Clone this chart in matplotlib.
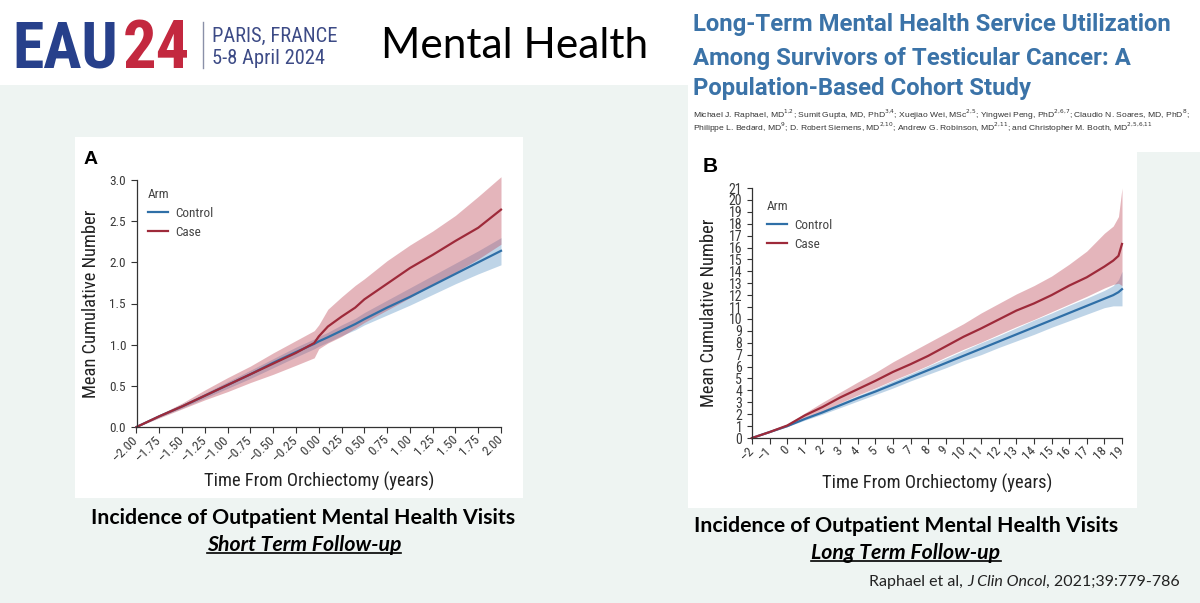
import matplotlib
matplotlib.use("Agg")
import matplotlib.pyplot as plt
from matplotlib.patches import Rectangle
from matplotlib.lines import Line2D

# ---- data ----
# panel A: short term follow-up
xa = [-2.0, -1.75, -1.5, -1.25, -1.0, -0.75, -0.5, -0.25, -0.05, 0.0,
      0.1, 0.25, 0.4, 0.5, 0.75, 1.0, 1.25, 1.5, 1.75, 2.0]
ctrl_a = [0, 0.13, 0.25, 0.38, 0.51, 0.64, 0.78, 0.91, 1.01, 1.04,
          1.09, 1.17, 1.25, 1.31, 1.45, 1.58, 1.72, 1.86, 2.00, 2.14]
ctrl_a_hi = [0, 0.14, 0.27, 0.41, 0.55, 0.69, 0.83, 0.97, 1.07, 1.10,
             1.15, 1.24, 1.32, 1.39, 1.54, 1.69, 1.84, 1.99, 2.14, 2.30]
ctrl_a_lo = [0, 0.12, 0.23, 0.35, 0.47, 0.59, 0.72, 0.85, 0.95, 0.98,
             1.03, 1.11, 1.18, 1.24, 1.36, 1.48, 1.61, 1.74, 1.86, 1.97]
case_a = [0, 0.13, 0.25, 0.38, 0.51, 0.64, 0.77, 0.90, 1.02, 1.10,
          1.22, 1.34, 1.45, 1.55, 1.74, 1.93, 2.09, 2.26, 2.42, 2.64]
case_a_hi = [0, 0.15, 0.29, 0.45, 0.60, 0.74, 0.90, 1.05, 1.17, 1.24,
             1.43, 1.58, 1.72, 1.80, 2.02, 2.21, 2.38, 2.57, 2.80, 3.04]
case_a_lo = [0, 0.11, 0.22, 0.33, 0.43, 0.54, 0.64, 0.75, 0.84, 0.95,
             1.02, 1.10, 1.20, 1.27, 1.42, 1.57, 1.73, 1.88, 2.04, 2.22]
xticks_a = [-2.0, -1.75, -1.5, -1.25, -1.0, -0.75, -0.5, -0.25, 0.0,
            0.25, 0.5, 0.75, 1.0, 1.25, 1.5, 1.75, 2.0]
yticks_a = [0.0, 0.5, 1.0, 1.5, 2.0, 2.5, 3.0]

# panel B: long term follow-up
xb = [-2, -1, 0, 1, 2, 3, 4, 5, 6, 7, 8, 9, 10, 11, 12, 13, 14, 15,
      16, 17, 18, 18.5, 18.8, 19]
ctrl_b = [0, 0.5, 1.0, 1.6, 2.15, 2.75, 3.35, 3.9, 4.5, 5.1, 5.7, 6.3, 6.9,
          7.5, 8.1, 8.7, 9.3, 9.9, 10.5, 11.1, 11.7, 12.0, 12.25, 12.5]
ctrl_b_hi = [0, 0.52, 1.05, 1.7, 2.3, 2.95, 3.55, 4.15, 4.8, 5.4, 6.05, 6.7,
             7.35, 8.0, 8.6, 9.25, 9.9, 10.5, 11.15, 11.75, 12.4, 12.8, 13.3, 14.0]
ctrl_b_lo = [0, 0.48, 0.95, 1.5, 2.0, 2.55, 3.1, 3.65, 4.2, 4.8, 5.35, 5.9,
             6.5, 7.0, 7.6, 8.15, 8.7, 9.3, 9.85, 10.4, 10.95, 11.1, 11.1, 11.1]
case_b = [0, 0.5, 1.05, 1.9, 2.6, 3.4, 4.1, 4.8, 5.55, 6.2, 6.9, 7.7, 8.5,
          9.2, 9.95, 10.7, 11.3, 12.0, 12.8, 13.5, 14.4, 14.9, 15.3, 16.3]
case_b_hi = [0, 0.55, 1.15, 2.1, 3.0, 3.85, 4.7, 5.5, 6.4, 7.2, 8.0, 8.8, 9.6,
             10.5, 11.3, 12.1, 12.8, 13.6, 14.6, 15.7, 17.2, 17.8, 18.6, 21.0]
case_b_lo = [0, 0.45, 0.95, 1.65, 2.25, 2.95, 3.6, 4.2, 4.85, 5.45, 6.1, 6.8,
             7.45, 8.05, 8.7, 9.35, 9.95, 10.6, 11.25, 11.9, 12.6, 12.9, 13.0, 12.8]
xticks_b = list(range(-2, 20))
yticks_b = list(range(0, 22))

title_lines = ["Long-Term Mental Health Service Utilization",
               "Among Survivors of Testicular Cancer: A",
               "Population-Based Cohort Study"]
authors = ["Michael J. Raphael, MD$^{1{,}2}$; Sumit Gupta, MD, PhD$^{3{,}4}$; Xuejiao Wei, MSc$^{2{,}5}$; "
           "Yingwei Peng, PhD$^{2{,}6{,}7}$; Claudio N. Soares, MD, PhD$^{8}$;",
           "Philippe L. Bedard, MD$^{9}$; D. Robert Siemens, MD$^{2{,}10}$; Andrew G. Robinson, MD$^{2{,}11}$; "
           "and Christopher M. Booth, MD$^{2{,}5{,}6{,}11}$"]

COND = "Roboto Condensed"
ARIAL = "Liberation Sans"
CAL = "Lato"

BLUE = "#2f6fa7"
RED = "#9e2a3a"
BG = "#eef4f2"
AXTXT = "#3a3a3a"

W, H = 1200, 603
fig = plt.figure(figsize=(12, 6.03), dpi=100, facecolor=BG)


def box(x0, y0, x1, y1, color="white"):
    fig.patches.append(Rectangle((x0 / W, 1 - y1 / H), (x1 - x0) / W, (y1 - y0) / H,
                                 transform=fig.transFigure, facecolor=color,
                                 edgecolor="none", zorder=-5))


def ftext(x, y, s, **kw):
    return fig.text(x / W, 1 - y / H, s, **kw)


# white areas of the slide
box(0, 0, 688, 85)
box(688, 0, 1200, 152)
box(688, 152, 1137, 508)
box(75, 137, 523, 498)

# header
ftext(12, 68, "EAU", family=COND, weight="bold", size=46, color="#27408b", va="baseline")
ftext(123, 68, "24", family=COND, weight="bold", size=48, color="#c3283f", va="baseline")
fig.add_artist(Line2D([203 / W, 203 / W], [1 - 22 / H, 1 - 68 / H], color="#8a90a8", lw=1))
ftext(212, 42, "PARIS, FRANCE", family=COND, size=14.8, color="#3d4b86", va="baseline")
ftext(212, 64, "5-8 April 2024", family=COND, size=14.8, color="#3d4b86", va="baseline")
ftext(381, 58, "Mental Health", family=CAL, size=30.5, color="black", va="baseline")

for i, line in enumerate(title_lines):
    ftext(693, [31, 65, 95][i], line, family="Roboto", weight="bold", size=17.2,
          color="#3b73a8", va="baseline")
for i, line in enumerate(authors):
    ftext(693, [118, 131][i], line, family=ARIAL, size=6.1, color="#333333", va="baseline")


def style_axes(ax):
    for s in ("top", "right"):
        ax.spines[s].set_visible(False)
    for s in ("left", "bottom"):
        ax.spines[s].set_color("#333333")
        ax.spines[s].set_linewidth(0.9)
    ax.set_facecolor("none")
    ax.tick_params(direction="out", length=4, width=0.8, color="#333333",
                   labelsize=9.5, labelcolor=AXTXT)
    for lab in ax.get_xticklabels() + ax.get_yticklabels():
        lab.set_family(COND)


def draw_panel(ax, x, ctrl, ctrl_lo, ctrl_hi, case, case_lo, case_hi):
    ax.fill_between(x, ctrl_lo, ctrl_hi, color="#3b7fb8", alpha=0.33, lw=0, clip_on=False)
    ax.fill_between(x, case_lo, case_hi, color="#c0505f", alpha=0.42, lw=0, clip_on=False)
    ax.plot(x, ctrl, color=BLUE, lw=1.6, label="Control", clip_on=False)
    ax.plot(x, case, color=RED, lw=1.6, label="Case", clip_on=False)


def add_legend(ax, anchor):
    leg = ax.legend(loc="upper left", bbox_to_anchor=anchor, frameon=False, title="Arm",
                    alignment="left", borderpad=0, borderaxespad=0, handlelength=1.5,
                    handletextpad=0.6, labelspacing=0.45,
                    prop={"family": COND, "size": 9.5},
                    title_fontproperties={"family": COND, "size": 9.5})
    for t in leg.get_texts() + [leg.get_title()]:
        t.set_color("#444444")


lab_kw = dict(family=COND, size=13.3, color="#222222")

# panel A
axa = fig.add_axes([136.5 / W, 1 - 427 / H, (501 - 136.5) / W, (427 - 180) / H])
draw_panel(axa, xa, ctrl_a, ctrl_a_lo, ctrl_a_hi, case_a, case_a_lo, case_a_hi)
axa.set_xlim(-2, 2)
axa.set_ylim(0, 3)
axa.set_xticks(xticks_a)
axa.set_xticklabels([f"{t:.2f}".replace("-", "\u2013") for t in xticks_a],
                    rotation=45, ha="right", va="center", rotation_mode="anchor")
axa.set_yticks(yticks_a)
axa.set_yticklabels([f"{t:.1f}" for t in yticks_a])
style_axes(axa)
axa.set_ylabel("Mean Cumulative Number", **lab_kw)
axa.set_xlabel("Time From Orchiectomy (years)", **lab_kw)
axa.yaxis.set_label_coords(-0.100, 0.5)
axa.xaxis.set_label_coords(0.5, -0.180)
add_legend(axa, (0.0316, 0.968))
ftext(84, 164, "A", family=ARIAL, weight="bold", size=14, color="black", va="baseline")

# panel B
axb = fig.add_axes([752 / W, 1 - 438 / H, (1122 - 752) / W, (438 - 188) / H])
draw_panel(axb, xb, ctrl_b, ctrl_b_lo, ctrl_b_hi, case_b, case_b_lo, case_b_hi)
axb.set_xlim(-2, 19)
axb.set_ylim(0, 21)
axb.set_xticks(xticks_b)
axb.set_xticklabels([str(t).replace("-", "\u2013") for t in xticks_b],
                    rotation=45, ha="right", va="center", rotation_mode="anchor")
axb.set_yticks(yticks_b)
axb.set_yticklabels([str(t) for t in yticks_b])
style_axes(axb)
axb.tick_params(axis="y", length=3.5, labelsize=10)
axb.set_ylabel("Mean Cumulative Number", **lab_kw)
axb.set_xlabel("Time From Orchiectomy (years)", **lab_kw)
axb.yaxis.set_label_coords(-0.092, 0.5)
axb.xaxis.set_label_coords(0.5, -0.142)
add_legend(axb, (0.0405, 0.952))
ftext(703, 172, "B", family=ARIAL, weight="bold", size=15, color="black", va="baseline")

# captions under the panels
cap_kw = dict(family=CAL, weight="bold", size=15.3, color="black", ha="center", va="baseline")
ftext(303, 524, "Incidence of Outpatient Mental Health Visits", **cap_kw)
s1 = ftext(304, 551, "Short Term Follow-up", style="italic", **cap_kw)
ftext(906, 532, "Incidence of Outpatient Mental Health Visits", **cap_kw)
s2 = ftext(906, 559, "Long Term Follow-up", style="italic", **cap_kw)

fig.canvas.draw()
renderer = fig.canvas.get_renderer()
for t in (s1, s2):
    bb = t.get_window_extent(renderer)
    fig.add_artist(Line2D([bb.x0 / W, bb.x1 / W], [(bb.y0 + 2) / H] * 2,
                          color="black", lw=1.2))

# citation, right aligned, journal name in italics
cit_kw = dict(family=CAL, size=11.5, color="#222222", va="baseline")
c3 = ftext(1180, 586, ", 2021;39:779-786", ha="right", **cit_kw)
x3 = c3.get_window_extent(renderer).x0
c2 = fig.text(x3 / W, 1 - 586 / H, "J Clin Oncol", ha="right", style="italic", **cit_kw)
bb2 = c2.get_window_extent(renderer)
fig.text(bb2.x0 / W, 1 - 586 / H, "Raphael et al, ", ha="right", **cit_kw)

fig.savefig("out.png", dpi=100, facecolor=BG)
